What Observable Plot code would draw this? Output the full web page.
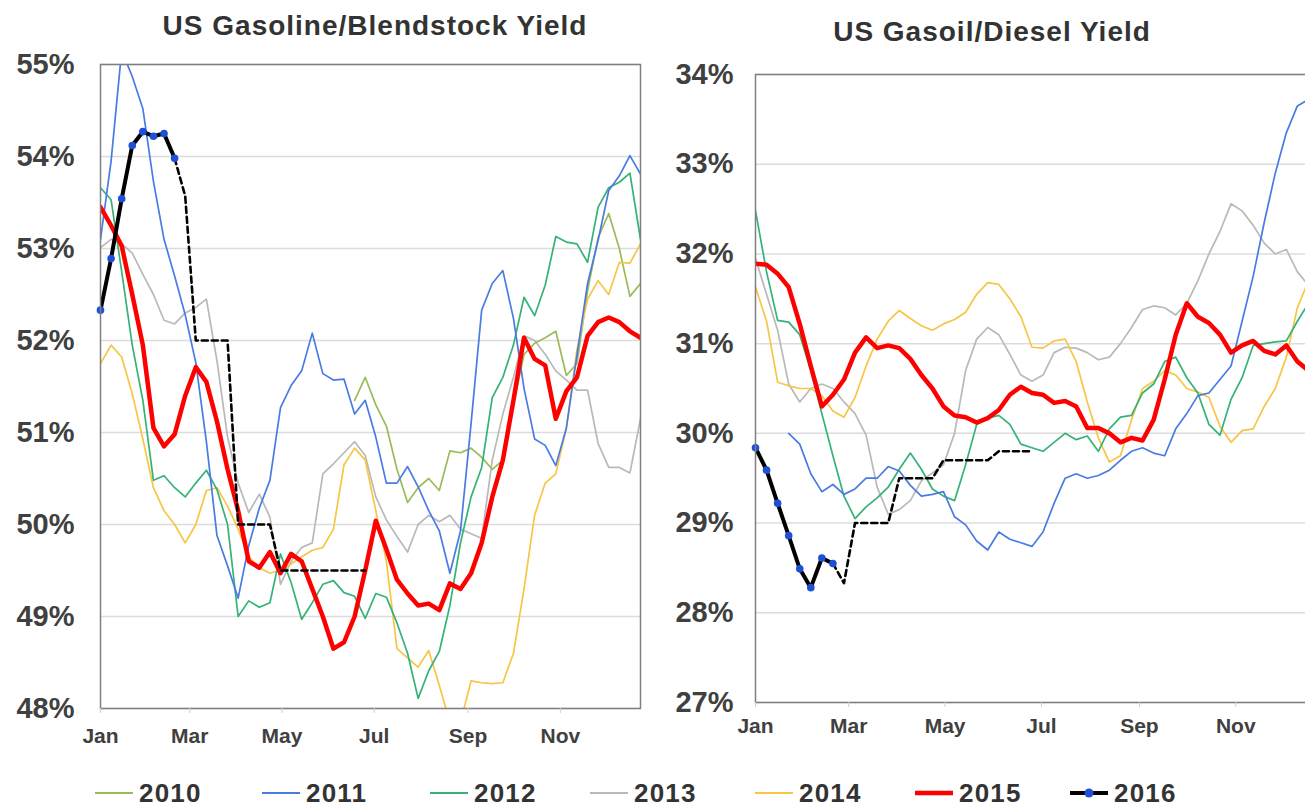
<!DOCTYPE html>
<html><head><meta charset="utf-8">
<script src="https://cdn.jsdelivr.net/npm/d3@7"></script>
<script src="https://cdn.jsdelivr.net/npm/@observablehq/plot@0.6"></script>
<style>
html,body{margin:0;padding:0;background:#fff;overflow:hidden;}
#root{position:relative;width:1305px;height:807px;overflow:hidden;font-family:"Liberation Sans",Arial,Helvetica,sans-serif;}
.title{position:absolute;font-weight:bold;font-size:28px;color:#333;letter-spacing:1px;white-space:nowrap;transform:translate(-50%,-50%);}
#left,#right{position:absolute;top:0;height:760px;}
#left{left:0px;width:660px}
#right{left:655px;width:684px}
#left svg,#right svg{max-width:none;}
#legend{position:absolute;left:0;top:775px;}
</style></head><body>
<div id="root">
<div id="left"></div><div id="right"></div>
<div class="title" style="left:375px;top:26px">US Gasoline/Blendstock Yield</div>
<div class="title" style="left:992px;top:32px">US Gasoil/Diesel Yield</div>
<svg id="legend" width="1305" height="32"></svg>
</div>
<script>
// ---------- DATA (weekly values, week 0 = first week of January) ----------
const years = ["2010","2011","2012","2013","2014","2015","2016"];
const monthNames = ["Jan","Feb","Mar","Apr","May","Jun","Jul","Aug","Sep","Oct","Nov","Dec"];
const monthTicks = ["Jan","Mar","May","Jul","Sep","Nov"];
const gasTicks = [48,49,50,51,52,53,54,55];
const dslTicks = [27,28,29,30,31,32,33,34];

const gas2010 = [null,null,null,null,null,null,null,null,null,null,null,null,null,null,null,null,null,null,null,null,null,null,null,null,
  51.35,51.6,51.3,51.07,50.6,50.24,50.4,50.5,50.37,50.8,50.78,50.83,50.73,50.6,50.7,51.3,51.85,51.97,52.03,52.1,51.62,51.75,52.54,53.12,53.38,53.0,52.48,52.62];
const gas2011 = [53.1,53.95,55.15,54.87,54.52,53.73,53.1,52.7,52.28,51.76,50.9,49.88,49.55,49.2,49.77,50.18,50.48,51.27,51.51,51.67,52.08,51.64,51.57,51.58,51.2,51.35,50.95,50.45,50.45,50.63,50.41,50.15,49.93,49.47,49.93,51.1,52.33,52.62,52.76,52.24,51.48,50.93,50.86,50.64,51.05,51.84,52.62,53.09,53.63,53.79,54.01,53.81];
const gas2012 = [53.66,53.53,52.75,51.95,51.35,50.48,50.53,50.4,50.3,50.45,50.59,50.38,50.0,49.0,49.17,49.1,49.15,49.68,49.37,48.97,49.15,49.35,49.39,49.26,49.22,48.98,49.25,49.21,48.93,48.6,48.11,48.41,48.62,49.12,49.8,50.3,50.62,51.38,51.6,51.95,52.47,52.27,52.6,53.13,53.07,53.05,52.85,53.45,53.66,53.72,53.82,53.1];
const gas2013 = [53.01,53.1,53.05,52.95,52.72,52.5,52.22,52.18,52.3,52.36,52.45,51.78,50.95,50.45,50.13,50.33,50.08,49.35,49.6,49.75,49.8,50.55,50.66,50.78,50.9,50.75,50.3,50.05,49.87,49.7,50.0,50.1,50.03,50.1,49.95,49.9,49.85,50.7,51.2,51.6,52.05,52.0,51.85,51.67,51.57,51.46,51.46,50.88,50.62,50.62,50.56,51.15];
const gas2014 = [51.75,51.95,51.82,51.42,50.93,50.4,50.15,50.0,49.8,50.0,50.37,50.4,50.2,49.95,49.65,49.53,49.47,49.5,49.57,49.65,49.72,49.75,49.95,50.65,50.83,50.7,50.15,49.6,48.65,48.55,48.45,48.63,48.25,47.85,47.85,48.3,48.28,48.27,48.28,48.6,49.3,50.1,50.45,50.55,51.05,51.9,52.45,52.65,52.5,52.85,52.84,53.05];
const gas2015 = [53.45,53.25,53.03,52.5,51.95,51.05,50.85,50.98,51.4,51.71,51.55,51.12,50.6,50.15,49.6,49.53,49.7,49.47,49.68,49.6,49.3,49.0,48.65,48.72,49.0,49.5,50.04,49.73,49.4,49.25,49.12,49.14,49.07,49.36,49.3,49.47,49.8,50.3,50.7,51.35,52.03,51.8,51.73,51.15,51.45,51.6,52.05,52.2,52.25,52.2,52.1,52.03];
const gas2016 = [52.33,52.89,53.54,54.12,54.27,54.22,54.25,53.98];
const gas2016Outlook = [null,null,null,null,null,null,null,53.98,53.57,52.0,52.0,52.0,52.0,50.0,50.0,50.0,50.0,49.5,49.5,49.5,49.5,49.5,49.5,49.5,49.5,49.5];

const dsl2011 = [null,null,null,30.0,29.88,29.55,29.35,29.43,29.32,29.38,29.5,29.5,29.63,29.58,29.42,29.3,29.32,29.35,29.07,28.98,28.8,28.7,28.9,28.82,28.78,28.74,28.9,29.22,29.5,29.55,29.5,29.53,29.59,29.7,29.8,29.84,29.78,29.75,30.05,30.22,30.42,30.45,30.6,30.75,31.25,31.75,32.35,32.9,33.35,33.65,33.72,33.75];
const dsl2012 = [32.48,31.8,31.26,31.24,31.1,30.7,30.22,29.75,29.3,29.05,29.18,29.28,29.4,29.6,29.78,29.6,29.38,29.3,29.25,29.65,30.1,30.17,30.2,30.1,29.88,29.84,29.8,29.9,30.0,29.93,29.97,29.8,30.05,30.18,30.2,30.45,30.55,30.8,30.85,30.62,30.45,30.1,29.98,30.38,30.62,30.98,31.0,31.02,31.03,31.25,31.45,31.6];
const dsl2013 = [31.95,31.55,31.15,30.55,30.35,30.5,30.55,30.5,30.35,30.22,29.98,29.4,29.1,29.15,29.25,29.47,29.56,29.65,30.0,30.7,31.05,31.18,31.1,30.88,30.65,30.58,30.65,30.9,30.96,30.95,30.9,30.82,30.85,31.0,31.18,31.38,31.42,31.4,31.32,31.45,31.7,32.0,32.25,32.56,32.48,32.32,32.12,32.0,32.05,31.8,31.65,31.5];
const dsl2014 = [31.63,31.25,30.57,30.53,30.5,30.5,30.42,30.25,30.18,30.4,30.75,31.05,31.25,31.37,31.28,31.2,31.15,31.22,31.27,31.35,31.55,31.68,31.66,31.5,31.3,30.96,30.95,31.03,31.05,30.8,30.35,29.95,29.68,29.75,30.15,30.5,30.58,30.7,30.65,30.5,30.46,30.4,30.08,29.9,30.03,30.05,30.3,30.5,30.85,31.4,31.7,31.9];
const dsl2015 = [31.89,31.88,31.78,31.63,31.22,30.75,30.3,30.43,30.6,30.9,31.07,30.95,30.98,30.95,30.83,30.65,30.5,30.3,30.2,30.18,30.12,30.17,30.26,30.43,30.52,30.45,30.43,30.34,30.36,30.3,30.06,30.06,30.0,29.9,29.95,29.92,30.15,30.6,31.1,31.45,31.3,31.23,31.1,30.9,30.98,31.03,30.92,30.88,30.98,30.8,30.7,30.6];
const dsl2016 = [29.84,29.59,29.22,28.86,28.49,28.28,28.61,28.55];
const dsl2016Outlook = [null,null,null,null,null,null,null,28.55,28.33,29.0,29.0,29.0,29.0,29.5,29.5,29.5,29.5,29.7,29.7,29.7,29.7,29.7,29.8,29.8,29.8,29.8];

// ---------- STYLES ----------
const colors = {"2010":"#9bbb59","2011":"#4a7be3","2012":"#35b276","2013":"#b9b9b9","2014":"#f8c544","2015":"#ff0000","2016":"#000000"};
const dotColor = "#1f4fd6";
const widths = {"2010":1.7,"2011":1.7,"2012":1.7,"2013":1.7,"2014":1.7,"2015":4.5,"2016":4};
const drawOrder = ["2013","2010","2014","2012","2011","2015"];

const toDate = i => new Date(Date.UTC(2015, 0, 1 + 7 * i));
const xStart = toDate(0), xEnd = toDate(51);
const monthDates = monthTicks.map(m => new Date(Date.UTC(2015, monthNames.indexOf(m), 1)));

function rowsOf(arr) {
  return arr.map((v, i) => ({date: toDate(i), value: v})).filter(d => d.value != null);
}

function panel(cfg) {
  const marks = [
    Plot.gridY(cfg.ticks, {stroke: "#dcdcdc", strokeOpacity: 1, strokeWidth: 1.5})
  ];
  for (const y of drawOrder) {
    const arr = cfg.series[y];
    if (!arr) continue;
    marks.push(Plot.line(rowsOf(arr), {x: "date", y: "value", stroke: colors[y], strokeWidth: widths[y], clip: true, strokeLinejoin: "round"}));
  }
  marks.push(Plot.line(rowsOf(cfg.outlook), {x: "date", y: "value", stroke: "#000", strokeWidth: 2.6, strokeDasharray: "6,4", clip: true}));
  marks.push(Plot.line(rowsOf(cfg.actual), {x: "date", y: "value", stroke: "#000", strokeWidth: widths["2016"], clip: true}));
  marks.push(Plot.dot(rowsOf(cfg.actual), {x: "date", y: "value", r: 3.8, fill: dotColor, stroke: "none"}));
  marks.push(Plot.frame({stroke: "#7f7f7f", strokeWidth: 1.5}));
  marks.push(Plot.axisY(cfg.ticks, {tickSize: 0, tickPadding: cfg.yPad, tickFormat: d => d + "%", fontSize: 29, fontWeight: "bold", label: null}));
  marks.push(Plot.axisX(monthDates, {tickSize: 5, stroke: "#cfcfcf", tickPadding: cfg.xPad, tickFormat: d3.utcFormat("%b"), fontSize: 21, fontWeight: "bold", label: null}));
  return Plot.plot({
    width: cfg.width, height: 760,
    marginLeft: 100, marginRight: 20, marginTop: cfg.top, marginBottom: 760 - cfg.bottom,
    style: {fontFamily: "'Liberation Sans', Arial, sans-serif", color: "#404040", background: "transparent", overflow: "visible", maxWidth: "none"},
    x: {type: "utc", domain: [xStart, xEnd], label: null},
    y: {domain: [cfg.ticks[0], cfg.ticks[cfg.ticks.length - 1]], label: null},
    marks
  });
}

document.getElementById("left").append(panel({
  series: {"2010": gas2010, "2011": gas2011, "2012": gas2012, "2013": gas2013, "2014": gas2014, "2015": gas2015},
  actual: gas2016, outlook: gas2016Outlook, ticks: gasTicks,
  width: 660, top: 64, bottom: 708, yPad: 26, xPad: 15
}));
document.getElementById("right").append(panel({
  series: {"2011": dsl2011, "2012": dsl2012, "2013": dsl2013, "2014": dsl2014, "2015": dsl2015},
  actual: dsl2016, outlook: dsl2016Outlook, ticks: dslTicks,
  width: 684, top: 74, bottom: 702, yPad: 22, xPad: 11
}));

// ---------- LEGEND ----------
const legendX = [95, 262, 430, 590, 755, 915, 1070];
const lg = d3.select("#legend");
years.forEach((y, i) => {
  const x0 = legendX[i], x1 = x0 + 38, cy = 18;
  lg.append("line").attr("x1", x0).attr("x2", x1).attr("y1", cy).attr("y2", cy)
    .attr("stroke", colors[y]).attr("stroke-width", y === "2015" ? 4.5 : (y === "2016" ? 4 : 2));
  if (y === "2016") lg.append("circle").attr("cx", (x0 + x1) / 2).attr("cy", cy).attr("r", 4.5).attr("fill", dotColor);
  lg.append("text").attr("x", x1 + 6).attr("y", cy).attr("dy", "0.36em")
    .attr("font-family", "'Liberation Sans', Arial, sans-serif").attr("font-weight", "bold")
    .attr("font-size", 26).attr("letter-spacing", "1.2px").attr("fill", "#333").text(y);
});
</script>
</body></html>
